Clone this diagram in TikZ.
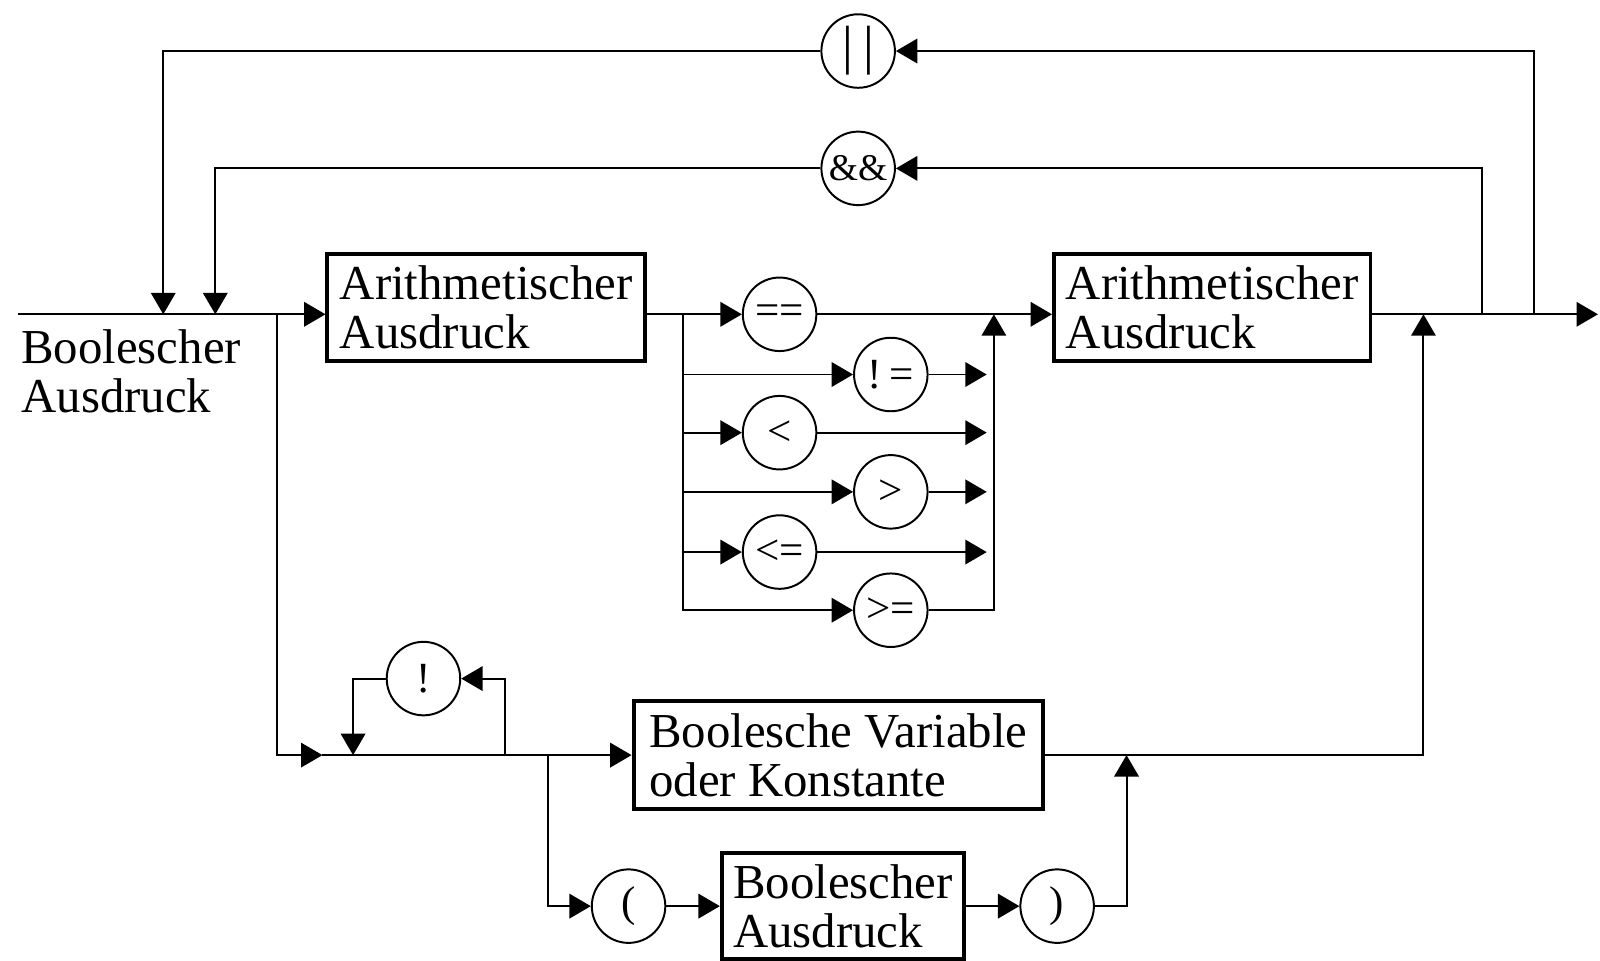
\documentclass[tikz,border=0pt]{standalone}
\usepackage{fontspec}
\setmainfont{Liberation Serif}
\usetikzlibrary{arrows.meta}
\begin{document}
\begin{tikzpicture}[x=0.01cm, y=-0.01cm, >={Triangle[length=0.21cm, width=0.24cm]},
	line width=0.55pt, font=\fontsize{13.6}{13.6}\selectfont,
	box/.style={draw, line width=1.1pt, align=left, inner sep=0pt},
	op/.style={draw, circle, minimum size=0.72cm, inner sep=0pt, font=\fontsize{12}{12}\selectfont}]
	\useasboundingbox (0,0) rectangle (1568,941);

	% 方框
	\node[box, minimum width=3.11cm, minimum height=1.05cm] (arith1) at (476.5,301.5) {Arithmetischer\\Ausdruck};
	\node[box, minimum width=3.10cm, minimum height=1.05cm] (arith2) at (1188,301.5) {Arithmetischer\\Ausdruck};
	\node[box, minimum width=4.01cm, minimum height=1.06cm] (var) at (821.5,740) {Boolesche Variable\\oder Konstante};
	\node[box, minimum width=2.37cm, minimum height=1.04cm] (bool) at (826,888) {Boolescher\\Ausdruck};
	\node[anchor=north west, align=left, inner sep=0pt] (lbl) at (20,322) {Boolescher\\Ausdruck};

	% 运算符
	\node[op, font=\fontsize{15}{15}\selectfont] (or) at (841,50) {|\kern3pt|};
	\node[op, font=\fontsize{10.5}{10.5}\selectfont] (and) at (841,165) {\&\&};
	\node[op] (eq) at (764,308) {==};
	\node[op] (ne) at (873,367) {!\kern2pt=};
	\node[op] (lt) at (764,424) {<};
	\node[op] (gt) at (873,482) {>};
	\node[op] (le) at (764,541) {<=};
	\node[op] (ge) at (873,598) {>=};
	\node[op] (not) at (415,665) {!};
	\node[op] (lpar) at (616,888) {(};
	\node[op] (rpar) at (1036,888) {)};

	% 连接点
	\coordinate (start) at (18,308);
	\coordinate (end) at (1566,308);
	\coordinate (jor) at (160,308);
	\coordinate (jand) at (211,308);
	\coordinate (split) at (271,308);
	\coordinate (split2) at (669,308);
	\coordinate (collect) at (974,308);
	\coordinate (jret) at (1395,308);
	\coordinate (sand) at (1452,308);
	\coordinate (sor) at (1503,308);
	\coordinate (jlow) at (316,740);
	\coordinate (nj) at (346,740);
	\coordinate (ns) at (495,740);
	\coordinate (ps) at (537,740);
	\coordinate (pj) at (1104,740);

	% 主线
	\draw[->] (start) -- (arith1.west |- start);
	\draw[->] (arith1.east |- start) -- (eq.west);
	\draw[->] (eq.east) -- (arith2.west |- start);
	\draw[->] (arith2.east |- start) -- (end);

	% 循环 || 和 &&
	\draw[->] (sor) |- (or.east);
	\draw[->] (or.west) -| (jor);
	\draw[->] (sand) |- (and.east);
	\draw[->] (and.west) -| (jand);

	% 比较运算符
	\foreach \op in {ne, lt, gt, le}{
		\draw[->] (split2 |- \op) -- (\op.west);
		\draw[->, shorten >=0.07cm] (\op.east) -- (collect |- \op);
	}
	\draw[->] (split2) |- (ge.west);
	\draw[->] (ge.east) -| (collect);

	% 下方分支
	\draw[->] (split) |- (jlow);
	\draw[->] (jlow) -- (var.west);
	\draw[->] (ns) |- (not.east);
	\draw[->] (not.west) -| (nj);
	\draw[->] (ps) |- (lpar.west);
	\draw[->] (lpar.east) -- (bool.west);
	\draw[->] (bool.east) -- (rpar.west);
	\draw[->] (rpar.east) -| (pj);
	\draw[->] (var.east) -| (jret);
\end{tikzpicture}
\end{document}
